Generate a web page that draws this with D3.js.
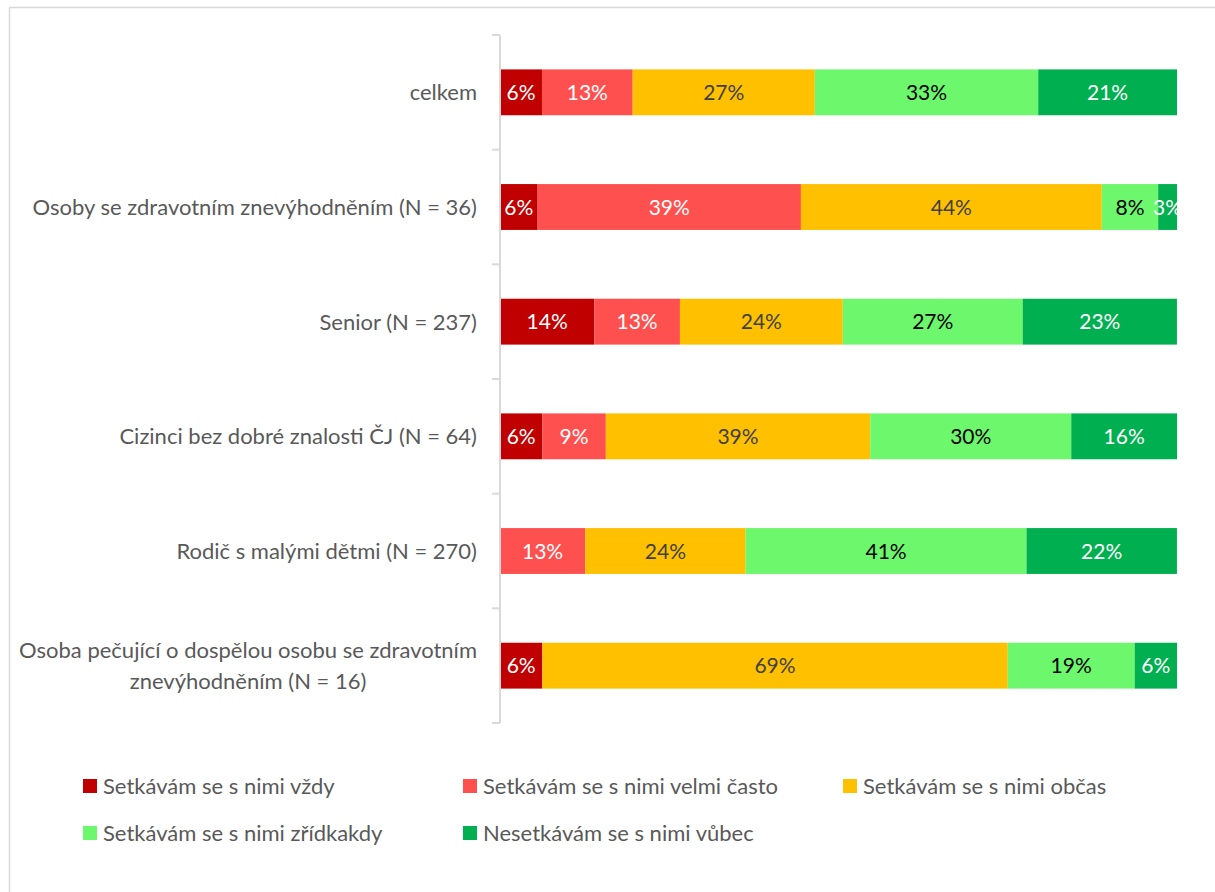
<!DOCTYPE html>
<html>
<head>
<meta charset="utf-8">
<script src="https://cdn.jsdelivr.net/npm/d3@7"></script>
<style>
  body { margin: 0; background: #ffffff; }
  svg { font-family: Lato, "Open Sans", sans-serif; }
</style>
</head>
<body>
<div id="wrapper"></div>
<script>
const categories = [
  "celkem",
  "Osoby se zdravotním znevýhodněním (N = 36)",
  "Senior (N = 237)",
  "Cizinci bez dobré znalosti ČJ (N = 64)",
  "Rodič s malými dětmi (N = 270)",
  "Osoba pečující o dospělou osobu se zdravotním|znevýhodněním (N = 16)",
]
const seriesNames = [
  "Setkávám se s nimi vždy",
  "Setkávám se s nimi velmi často",
  "Setkávám se s nimi občas",
  "Setkávám se s nimi zřídkakdy",
  "Nesetkávám se s nimi vůbec",
]
// percentages per category, one array per series
const vzdy       = [6.2, 5.56, 13.92, 6.25, 0, 6.25]
const velmiCasto = [13.4, 38.89, 12.66, 9.38, 12.59, 0]
const obcas      = [26.9, 44.44, 24.05, 39.06, 23.70, 68.75]
const zridka     = [33.0, 8.33, 26.58, 29.69, 41.48, 18.75]
const vubec      = [20.5, 2.78, 22.78, 15.63, 22.22, 6.25]

const seriesValues = [vzdy, velmiCasto, obcas, zridka, vubec]
const seriesColors = ["#C00000", "#FF5050", "#FFC000", "#6CF76C", "#00B050"]
const labelColors = ["#ffffff", "#ffffff", "#404040", "#000000", "#ffffff"]

function drawChart() {
  const dimensions = {
    width: 1215,
    height: 892,
    margin: { top: 35, right: 38, bottom: 169, left: 500 },
  }
  dimensions.boundedWidth = dimensions.width - dimensions.margin.left - dimensions.margin.right
  dimensions.boundedHeight = dimensions.height - dimensions.margin.top - dimensions.margin.bottom

  const dataset = categories.map((c, i) => {
    const row = { category: c }
    seriesNames.forEach((s, j) => { row[s] = seriesValues[j][i] })
    return row
  })

  const stacked = d3.stack().keys(seriesNames)(dataset)

  const wrapper = d3.select("#wrapper")
    .append("svg")
    .attr("width", dimensions.width)
    .attr("height", dimensions.height)

  // chart frame
  wrapper.append("rect")
    .attr("x", 9.5)
    .attr("y", 7.5)
    .attr("width", 1230)
    .attr("height", 900)
    .attr("fill", "none")
    .attr("stroke", "#d9d9d9")
    .attr("stroke-width", 1.5)

  const bounds = wrapper.append("g")
    .attr("transform", `translate(${dimensions.margin.left},${dimensions.margin.top})`)

  const xScale = d3.scaleLinear()
    .domain([0, 100])
    .range([0, dimensions.boundedWidth])

  const yScale = d3.scaleBand()
    .domain(categories)
    .range([0, dimensions.boundedHeight])
    .paddingInner(0.6)
    .paddingOuter(0.3)

  const colorScale = d3.scaleOrdinal().domain(seriesNames).range(seriesColors)
  const labelColorScale = d3.scaleOrdinal().domain(seriesNames).range(labelColors)

  // bars
  const layers = bounds.selectAll(".layer")
    .data(stacked)
    .enter().append("g")
    .attr("class", "layer")
    .attr("fill", d => colorScale(d.key))

  layers.selectAll("rect")
    .data(d => d.map(p => ({ key: d.key, p })))
    .enter().append("rect")
    .attr("x", d => xScale(d.p[0]))
    .attr("y", d => yScale(d.p.data.category))
    .attr("width", d => xScale(d.p[1]) - xScale(d.p[0]))
    .attr("height", yScale.bandwidth())

  // data labels
  layers.selectAll("text")
    .data(d => d.map(p => ({ key: d.key, p })).filter(d => d.p[1] - d.p[0] > 0))
    .enter().append("text")
    .attr("x", d => (xScale(d.p[0]) + xScale(d.p[1])) / 2)
    .attr("y", d => yScale(d.p.data.category) + yScale.bandwidth() / 2)
    .attr("dy", "0.36em")
    .attr("text-anchor", "middle")
    .attr("fill", d => labelColorScale(d.key))
    .style("font-size", "21px")
    .text(d => Math.round(d.p[1] - d.p[0]) + "%")

  // y axis
  const yAxisGenerator = d3.axisLeft(yScale)
    .tickSize(0)
    .tickPadding(0)
    .tickFormat("")

  const yAxis = bounds.append("g").call(yAxisGenerator)
  yAxis.select(".domain")
    .attr("stroke", "#d9d9d9")
    .attr("stroke-width", 2)
    .attr("d", `M0,0V${dimensions.boundedHeight}`)

  // tick marks at band boundaries
  const boundaries = d3.range(categories.length + 1).map(i => i * yScale.step())
  yAxis.selectAll(".boundary")
    .data(boundaries)
    .enter().append("line")
    .attr("x1", -8)
    .attr("x2", 0)
    .attr("y1", d => d)
    .attr("y2", d => d)
    .attr("stroke", "#d9d9d9")
    .attr("stroke-width", 2)

  // category labels
  const catLabels = bounds.append("g")
    .selectAll("text")
    .data(categories)
    .enter().append("text")
    .attr("x", -23)
    .attr("y", d => yScale(d) + yScale.bandwidth() / 2)
    .attr("text-anchor", "end")
    .attr("fill", "#595959")
    .style("font-size", "22px")

  catLabels.each(function (d) {
    const lines = d.split("|")
    const t = d3.select(this)
    if (lines.length === 1) {
      t.append("tspan").attr("dy", "0.36em").text(lines[0])
    } else {
      t.append("tspan").attr("dy", -15.5 + 0.36 * 22).text(lines[0])
      const second = t.append("tspan").attr("dy", 31).text(lines[1])
      // centre the wrapped line under the first one
      const w1 = t.select("tspan").node().getComputedTextLength()
      const w2 = second.node().getComputedTextLength()
      second.attr("x", -23 - w1 / 2 + w2 / 2)
    }
  })

  // legend
  const legendItems = [
    { name: seriesNames[0], x: 83, y: 786 },
    { name: seriesNames[1], x: 463, y: 786 },
    { name: seriesNames[2], x: 843, y: 786 },
    { name: seriesNames[3], x: 83, y: 833 },
    { name: seriesNames[4], x: 463, y: 833 },
  ]
  const legend = wrapper.append("g")
    .selectAll("g")
    .data(legendItems)
    .enter().append("g")
    .attr("transform", d => `translate(${d.x},${d.y})`)

  legend.append("rect")
    .attr("x", 0)
    .attr("y", -7)
    .attr("width", 14)
    .attr("height", 14)
    .attr("fill", d => colorScale(d.name))

  legend.append("text")
    .attr("x", 20)
    .attr("dy", "0.36em")
    .attr("fill", "#595959")
    .style("font-size", "22px")
    .text(d => d.name)
}
drawChart()
</script>
</body>
</html>
